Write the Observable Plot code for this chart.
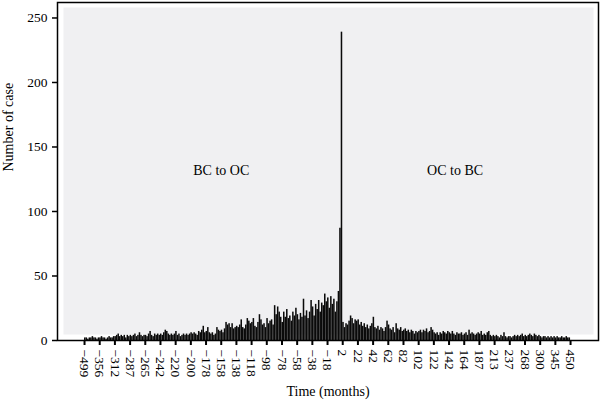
<!DOCTYPE html>
<html><head><meta charset="utf-8">
<script src="https://cdn.jsdelivr.net/npm/d3@7"></script>
<script src="https://cdn.jsdelivr.net/npm/@observablehq/plot@0.6"></script>
<style>body{margin:0;background:#fff} svg{display:block}</style>
</head><body><div id="chart"></div>
<script>
// Tick labels (months) shown under every 10th bar
const tickLabels = ["−499","−356","−312","−287","−265","−242","−220","−200","−178","−158","−138","−118","−98","−78","−58","−38","−18","2","22","42","62","82","102","122","142","164","187","213","237","268","300","345","450"];
const barsPerTick = 10;
// Number of cases per bar
const counts = [
  2,2,1,2,2,3,2,2,1,2,
  2,3,2,2,1,2,3,2,2,3,
  3,4,5,3,4,3,4,2,4,3,
  4,3,4,5,3,4,6,4,3,4,
  4,3,5,7,4,3,5,4,5,4,
  5,4,6,8,7,5,4,5,4,5,
  7,4,5,3,4,5,4,5,4,5,
  6,5,6,5,4,7,6,8,11,6,
  7,10,6,5,6,4,5,10,8,7,
  8,6,9,14,12,13,10,13,9,10,
  11,10,12,16,10,9,12,17,15,13,
  14,17,11,10,14,20,16,12,13,10,
  17,13,15,16,12,27,20,26,22,18,
  14,22,18,24,17,19,15,22,19,25,
  20,16,21,18,32,19,23,17,22,31,
  26,19,28,24,31,22,29,27,36,30,
  33,25,34,28,32,22,30,38,87,239,
  14,10,13,12,15,19,17,13,16,15,
  16,12,14,11,13,10,12,9,11,13,
  18,10,9,11,8,10,9,7,10,15,
  12,9,8,10,6,13,9,8,10,7,
  8,9,7,8,6,8,7,5,7,6,
  7,8,6,8,7,9,6,7,10,8,
  6,5,6,4,6,5,7,6,5,7,
  6,5,7,5,4,6,5,5,6,4,
  5,6,4,8,5,6,5,4,5,6,
  5,7,4,5,4,6,7,4,3,4,
  3,4,3,2,4,3,6,3,2,3,
  3,2,3,4,3,4,3,4,5,3,
  4,3,4,5,4,3,5,4,3,4,
  3,2,3,3,2,3,2,3,2,3,
  2,3,2,2,3,2,2,3,2,2
];
const yTicks = [0,50,100,150,200,250];
const annotationText = ["BC to OC","OC to BC"];
const annotationX = [90, 244];
const annotationY = [132, 132];

const data = counts.map((v, i) => ({i, v}));
const haloData = data.concat([{i: counts.length, v: counts[counts.length - 1]}]);
const annotations = annotationText.map((t, k) => ({t, x: annotationX[k], y: annotationY[k]}));
const font = "'Liberation Serif', 'DejaVu Serif', serif";

const chart = Plot.plot({
  width: 600, height: 405,
  marginLeft: 57, marginRight: 2, marginTop: 2, marginBottom: 65,
  style: {fontFamily: font, fontSize: "13px", background: "#fff", color: "#000"},
  x: {domain: [-17.8, 338.4], axis: null},
  y: {domain: [0, 262], axis: null},
  marks: [
    Plot.frame({fill: "#f0f0f2", insetLeft: 6, insetTop: 5, insetRight: 5, insetBottom: 6, ariaLabel: "panel"}),
    Plot.areaY(haloData, {x: "i", y: "v", curve: "step-after", fill: "#fff", stroke: "#fff", strokeWidth: 9, strokeLinejoin: "round", ariaLabel: "halo"}),
    Plot.rectY(data, {x1: d => d.i, x2: d => d.i + 1, y: "v", fill: "#0a0a0a", inset: 0}),
    Plot.frame({stroke: "#000", strokeWidth: 1.5}),
    Plot.axisX({
      ticks: d3.range(tickLabels.length).map(k => k * barsPerTick),
      tickFormat: i => tickLabels[Math.round(i / barsPerTick)],
      tickRotate: 90, tickSize: 5, tickPadding: 4, strokeWidth: 2,
      fontSize: 13.5, label: null
    }),
    Plot.axisY({ticks: yTicks, tickSize: 5, tickPadding: 5, strokeWidth: 1.5, fontSize: 13.5, label: null}),
    Plot.text(annotations, {x: "x", y: "y", text: "t", fontSize: 14, fill: "#000"}),
    Plot.text(["Time (months)"], {frameAnchor: "bottom", dy: 55, fontSize: 14, fill: "#000"}),
    Plot.text(["Number of case"], {frameAnchor: "left", dx: -49, rotate: -90, fontSize: 14, fill: "#000"})
  ]
});

const svg = d3.select(chart);
const defs = svg.insert("defs", ":first-child");
defs.append("filter").attr("id", "soft").attr("x", "-10%").attr("y", "-10%").attr("width", "120%").attr("height", "120%")
  .append("feGaussianBlur").attr("stdDeviation", 2);
svg.selectAll('g[aria-label="panel"], g[aria-label="halo"]').attr("filter", "url(#soft)");
document.getElementById("chart").appendChild(chart);
</script>
</body></html>
